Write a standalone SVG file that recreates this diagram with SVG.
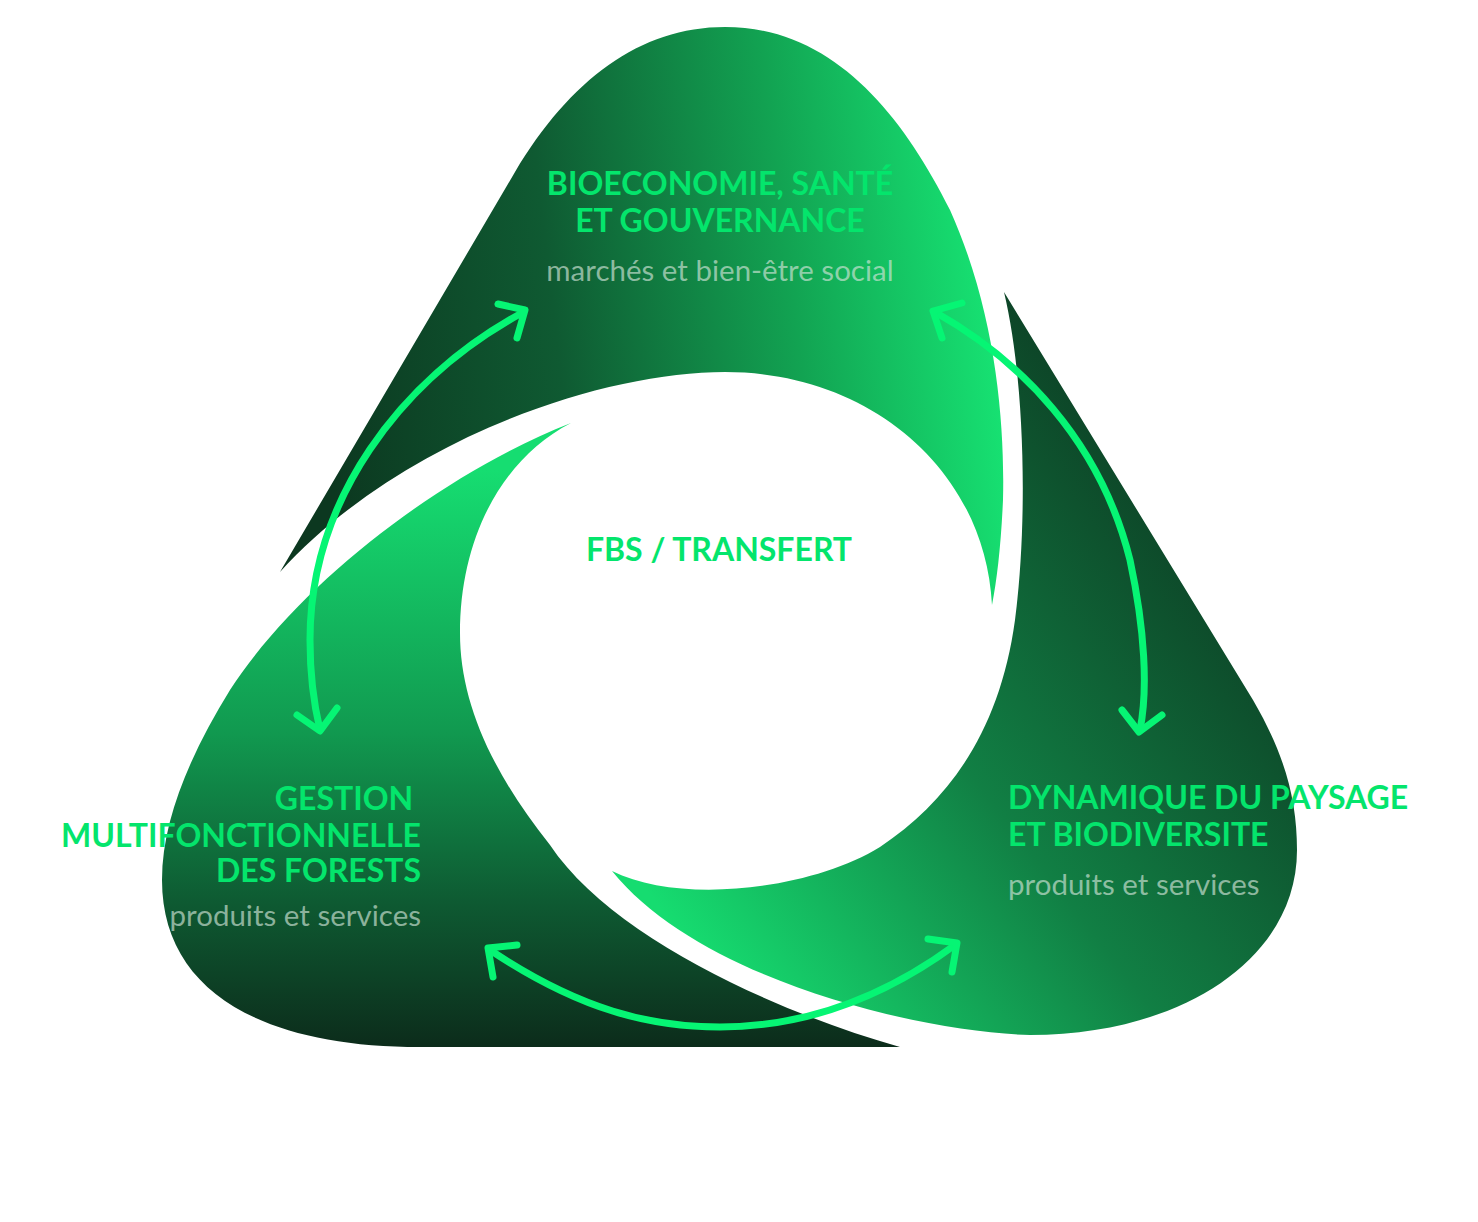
<svg xmlns="http://www.w3.org/2000/svg" width="1478" height="1222" viewBox="0 0 1478 1222">
<defs>
<linearGradient id="gTop" gradientUnits="userSpaceOnUse" x1="320" y1="380" x2="1000" y2="300">
<stop offset="0" stop-color="#0c3820"/>
<stop offset="0.35" stop-color="#0f5a32"/>
<stop offset="0.7" stop-color="#12a352"/>
<stop offset="1" stop-color="#17e574"/>
</linearGradient>
<linearGradient id="gLeft" gradientUnits="userSpaceOnUse" x1="0" y1="470" x2="0" y2="1047">
<stop offset="0" stop-color="#16dd71"/>
<stop offset="0.45" stop-color="#119a50"/>
<stop offset="0.75" stop-color="#0e5a32"/>
<stop offset="1" stop-color="#0c2c1b"/>
</linearGradient>
<linearGradient id="gRight" gradientUnits="userSpaceOnUse" x1="700" y1="960" x2="1220" y2="560">
<stop offset="0" stop-color="#16dc70"/>
<stop offset="0.5" stop-color="#117f44"/>
<stop offset="1" stop-color="#0d4427"/>
</linearGradient>
</defs>
<style>
.title{font-family:Lato,"Liberation Sans",sans-serif;font-weight:700;font-size:32px;fill:#04e56c;}
.sub{font-family:Lato,"Liberation Sans",sans-serif;font-weight:400;font-size:29.5px;fill:#cfe3d6;fill-opacity:0.66;}
.arrow{fill:none;stroke:#06f574;stroke-width:7;stroke-linecap:round;stroke-linejoin:round;}
</style>
<rect width="1478" height="1222" fill="#ffffff"/>
<g id="node-bioeconomie">
<path fill="url(#gTop)" d="M280,572 L515,172 C570,80 640,27 725,27 C830,27 900,110 950,210 C995,310 1005,420 1003,500 C1001,545 997,580 992,605 C985,470 870,372 725,372 C600,372 400,440 280,572 Z"/>
</g>
<g id="node-gestion">
<path fill="url(#gLeft)" d="M571,423 C445,472 300,582 230,690 C190,755 162,820 162,880 C162,990 260,1047 420,1047 L900,1047 C770,1010 610,935 550,845 C490,770 460,700 460,633 C460,540 500,460 571,423 Z"/>
</g>
<g id="node-dynamique">
<path fill="url(#gRight)" d="M1004,292 L1253,700 C1285,755 1297,800 1297,850 C1297,960 1180,1035 1030,1035 C920,1032 700,980 612,871 C680,905 810,890 880,847 C950,800 1000,730 1015,620 C1028,520 1025,380 1004,292 Z"/>
</g>
<g id="connectors">
<path class="arrow" d="M520,314 C400,380 310,500 310,640 C310,680 314,705 320,730"/>
<polyline class="arrow" points="498,304 525,310 517,338"/>
<polyline class="arrow" points="297,715 320,731 337,708"/>
<path class="arrow" d="M935,312 C1020,360 1100,440 1130,560 C1145,630 1148,690 1140,730"/>
<polyline class="arrow" points="962,303 933,311 942,338"/>
<polyline class="arrow" points="1122,710 1139,732 1162,715"/>
<path class="arrow" d="M490,950 C580,1010 650,1027 720,1027 C800,1027 880,1000 955,945"/>
<polyline class="arrow" points="517,945 488,948 493,977"/>
<polyline class="arrow" points="928,939 957,943 952,972"/>
</g>
<g id="labels">
<text class="title" x="720" y="195" text-anchor="middle">BIOECONOMIE, SANTÉ</text>
<text class="title" x="720" y="232" text-anchor="middle">ET GOUVERNANCE</text>
<text class="sub" x="720" y="281" text-anchor="middle">marchés et bien-être social</text>
<text class="title" x="421" y="810" text-anchor="end" xml:space="preserve">GESTION </text>
<text class="title" x="421" y="847" text-anchor="end">MULTIFONCTIONNELLE</text>
<text class="title" x="421" y="882" text-anchor="end">DES FORESTS</text>
<text class="sub" x="421" y="926" text-anchor="end">produits et services</text>
<text class="title" x="1008" y="809" text-anchor="start">DYNAMIQUE DU PAYSAGE</text>
<text class="title" x="1008" y="846" text-anchor="start">ET BIODIVERSITE</text>
<text class="sub" x="1008" y="895" text-anchor="start">produits et services</text>
<text class="title" x="719" y="561" text-anchor="middle">FBS / TRANSFERT</text>
</g>
</svg>
